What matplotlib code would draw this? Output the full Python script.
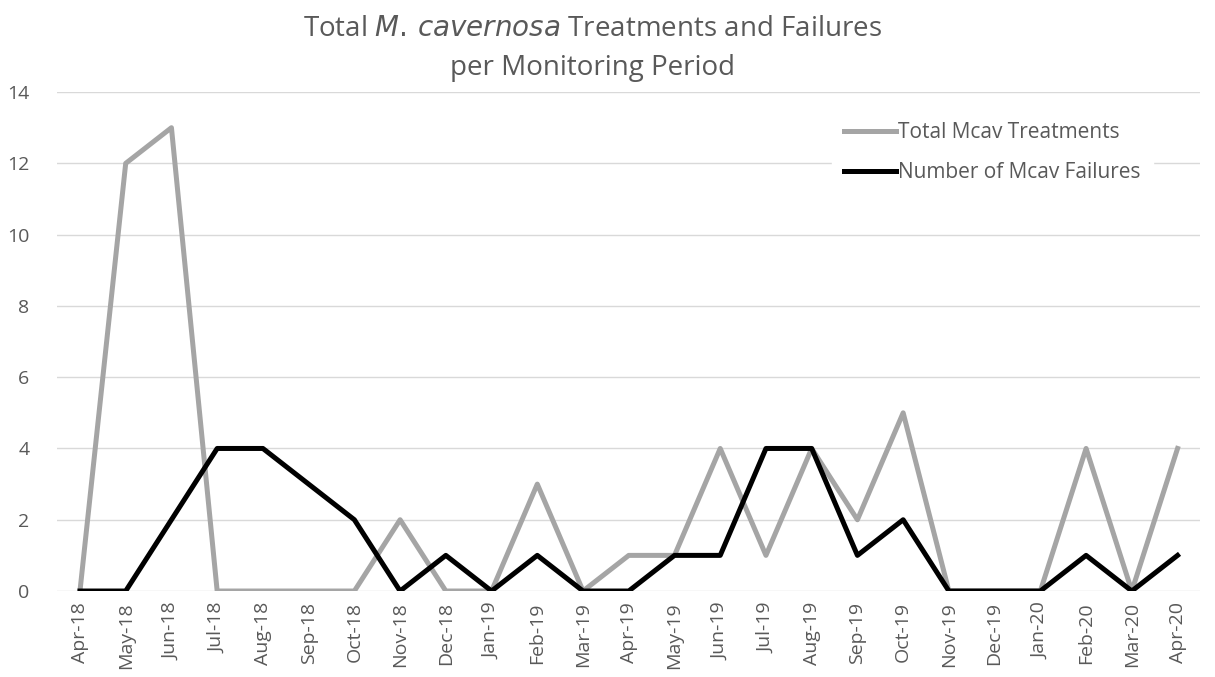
import numpy as np
import matplotlib.pyplot as plt

plt.rcParams['font.family'] = ['Open Sans', 'DejaVu Sans']

months = ['Apr-18', 'May-18', 'Jun-18', 'Jul-18', 'Aug-18', 'Sep-18', 'Oct-18',
          'Nov-18', 'Dec-18', 'Jan-19', 'Feb-19', 'Mar-19', 'Apr-19', 'May-19',
          'Jun-19', 'Jul-19', 'Aug-19', 'Sep-19', 'Oct-19', 'Nov-19', 'Dec-19',
          'Jan-20', 'Feb-20', 'Mar-20', 'Apr-20']
treatments = [0, 12, 13, 0, 0, 0, 0, 2, 0, 0, 3, 0, 1, 1, 4, 1, 4, 2, 5, 0, 0, 0, 4, 0, 4]
failures = [0, 0, 2, 4, 4, 3, 2, 0, 1, 0, 1, 0, 0, 1, 1, 4, 4, 1, 2, 0, 0, 0, 1, 0, 1]

txt = '#595959'
fig = plt.figure(figsize=(12.15, 6.77), dpi=100)
ax = fig.add_axes([0.047, 0.127, 0.941, 0.737])

x = np.arange(len(months))
ax.plot(x, treatments, color='#A5A5A5', lw=3.6, label='Total Mcav Treatments', zorder=3)
ax.plot(x, failures, color='black', lw=3.6, label='Number of Mcav Failures', zorder=4)

ax.set_xlim(-0.5, len(months) - 0.5)
ax.set_ylim(0, 14)
ax.set_yticks(range(0, 15, 2))
ax.set_xticks(x)
ax.set_xticklabels(months, rotation=90, fontsize=14, color=txt)
ax.tick_params(axis='y', labelsize=14, labelcolor=txt, length=0, pad=20)
ax.tick_params(axis='x', length=0, pad=8)
ax.grid(axis='y', color='#D9D9D9', lw=1)
ax.set_axisbelow(True)
for s in ax.spines.values():
    s.set_visible(False)

# title with italic species name
ax.set_title('Total $\\it{M.\\,cavernosa}$ Treatments and Failures\nper Monitoring Period',
             fontsize=20, color=txt, pad=12, x=0.468, linespacing=1.55)

leg = ax.legend(loc='upper right', bbox_to_anchor=(0.968, 0.985), frameon=True,
                fontsize=15, handlelength=2.5, handletextpad=0.1, labelspacing=0.9,
                borderpad=0.6)
leg.get_frame().set_facecolor('white')
leg.get_frame().set_edgecolor('white')
leg.get_frame().set_alpha(1)
for t in leg.get_texts():
    t.set_color(txt)

fig.savefig('out.png', dpi=100)
